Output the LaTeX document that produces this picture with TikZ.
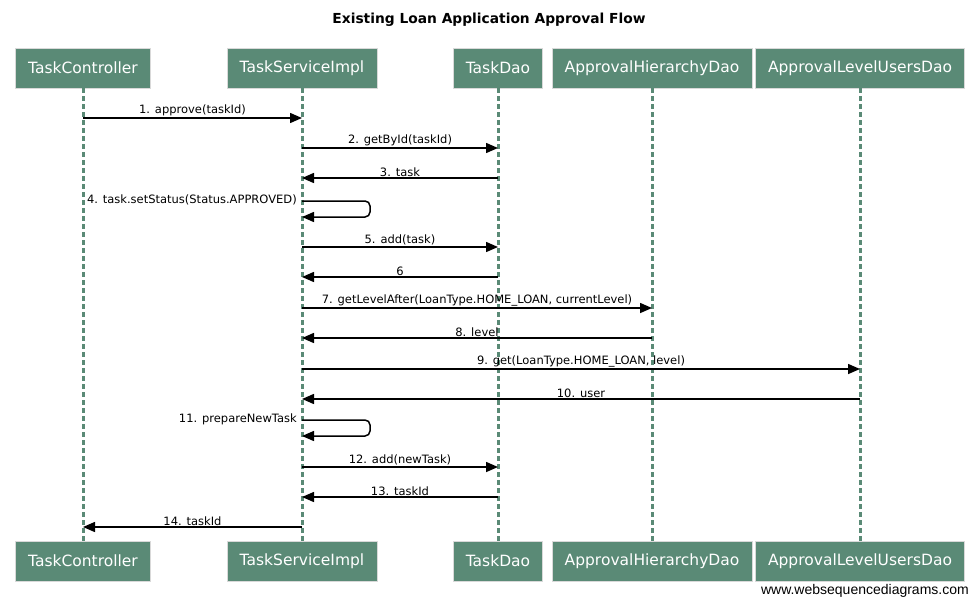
\documentclass[tikz,border=0pt]{standalone}
\usepackage{fontspec}
\setmainfont{DejaVu Sans}
\newfontfamily\wsdfont{Liberation Sans}
\usetikzlibrary{arrows.meta}
\definecolor{actorgreen}{HTML}{5A8A76}

\begin{document}
\begin{tikzpicture}[x=1pt,y=-1pt,
  actor/.style={draw=black!15,fill=actorgreen,text=white,font=\fontsize{15.5}{18}\selectfont,inner xsep=12.5pt,minimum height=40pt},
  lifeline/.style={actorgreen,line width=3pt,dash pattern=on 5pt off 3pt},
  msg/.style={line width=1.5pt,-{Triangle[length=12pt,width=10pt]}},
  lbl/.style={font=\fontsize{11.5}{13}\selectfont,inner sep=1pt}]
  \useasboundingbox (0,0) rectangle (979,605);
  \node[font=\bfseries\fontsize{13.8}{16}\selectfont] (title) at (489,20) {Existing Loan Application Approval Flow};

  \foreach \n/\x/\t in {tc/83/TaskController, tsi/302/TaskServiceImpl, td/498/TaskDao, ahd/652/ApprovalHierarchyDao, alud/860/ApprovalLevelUsersDao} {
    \node[actor] (\n) at (\x,68) {\t};
    \node[actor] (\n-b) at (\x,561) {\t};
    \draw[lifeline] (\n) -- (\n-b);
  }

  \foreach \y/\a/\b/\t in {118/tc/tsi/{1. approve(taskId)}, 148/tsi/td/{2. getById(taskId)}, 178/td/tsi/{3. task}, 247/tsi/td/{5. add(task)}, 277/td/tsi/6, 308/tsi/ahd/{7. getLevelAfter(LoanType.HOME\_LOAN, currentLevel)}, 338/ahd/tsi/{8. level}, 369/tsi/alud/{9. get(LoanType.HOME\_LOAN, level)}, 399/alud/tsi/{10. user}, 467/tsi/td/{12. add(newTask)}, 497/td/tsi/{13. taskId}, 527/tsi/tc/{14. taskId}}
    \draw[msg] (\a |- 0,\y) -- node[lbl,above] {\t} (\b |- 0,\y);

  \draw[msg,rounded corners=5pt] (tsi |- 0,201) -- (370,201) -- (370,217) -- (tsi |- 0,217);
  \node[lbl,anchor=east] (self4) at (298,200) {4. task.setStatus(Status.APPROVED)};
  \draw[msg,rounded corners=5pt] (tsi |- 0,420) -- (370,420) -- (370,436) -- (tsi |- 0,436);
  \node[lbl,anchor=east] (self11) at (298,419) {11. prepareNewTask};

  \node[font=\wsdfont\fontsize{14}{16}\selectfont,anchor=east,inner sep=0pt] (wsd) at (969,591) {www.websequencediagrams.com};
\end{tikzpicture}
\end{document}
